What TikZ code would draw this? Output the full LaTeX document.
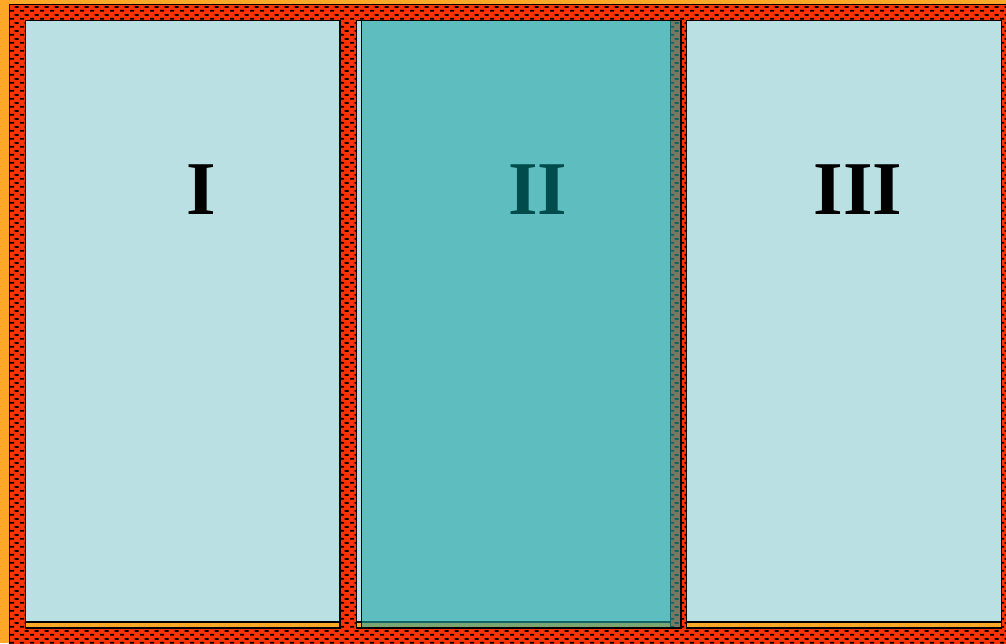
\documentclass[tikz,border=0pt]{standalone}
\usepackage{fontspec}
\setmainfont{Liberation Serif}
\usetikzlibrary{patterns}
\definecolor{bgorange}{RGB}{255,168,40}
\definecolor{brickred}{RGB}{255,51,0}
\definecolor{lightpanel}{RGB}{186,224,227}
\definecolor{overlayteal}{RGB}{33,166,166}
\definecolor{darkteal}{RGB}{0,76,76}
\pgfdeclarepatternformonly{brickdash}{\pgfpointorigin}{\pgfpoint{10pt}{8pt}}{\pgfpoint{10pt}{8pt}}{%
  \pgfpathrectangle{\pgfpoint{0pt}{0.5pt}}{\pgfpoint{4.5pt}{2pt}}%
  \pgfpathrectangle{\pgfpoint{5pt}{4.5pt}}{\pgfpoint{4.5pt}{2pt}}%
  \pgfusepath{fill}}
\tikzset{
  brickwall/.style={fill=brickred, draw=black, postaction={pattern=brickdash, pattern color=black}},
  panelbase/.style={fill=bgorange, draw=black},
  panelface/.style={fill=lightpanel, draw=black},
  tealveil/.style={fill=overlayteal, fill opacity=0.6, draw=black},
  numeral/.style={font=\bfseries\fontsize{76}{76}\selectfont, inner sep=0pt}
}
\begin{document}
\begin{tikzpicture}[x=1pt,y=-1pt,line width=1.6pt]
\useasboundingbox (0,0) rectangle (1006,643);
\clip (0,0) rectangle (1006,643);
\fill[bgorange] (0,0) rectangle (1006,643);
% brick frame and piers
\path[brickwall] (9.5,4.5) rectangle (1015,655);
% panels
\foreach \xa/\xb in {25.5/340, 356.5/670.5, 686.5/1001.5}{
  \path[panelbase] (\xa,20.5) rectangle (\xb,628.2);
  \path[panelface] (\xa,20.5) rectangle (\xb,621.8);
}
% teal overlay on the second panel
\path[tealveil] (361.5,20.5) rectangle (681,628.2);
% numerals
\node[numeral] (n1) at (201,190) {I};
\node[numeral, text=darkteal] (n2) at (538,190) {II};
\node[numeral] (n3) at (858,190) {III};
\end{tikzpicture}
\end{document}
